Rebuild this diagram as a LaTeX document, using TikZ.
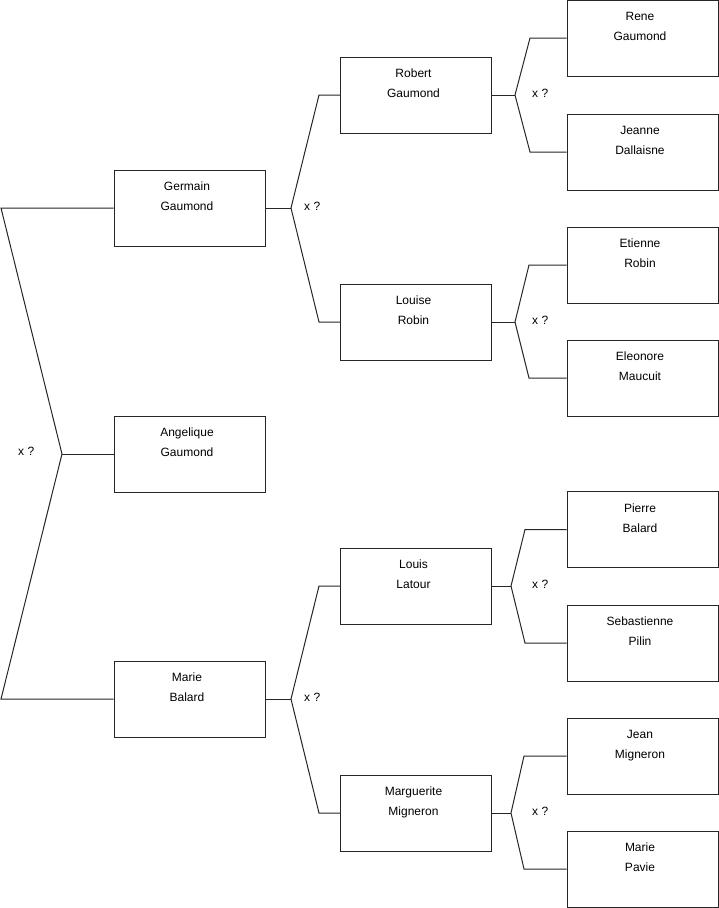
\documentclass[tikz,border=0pt]{standalone}
\usepackage{fontspec}
\setmainfont{Liberation Sans}
\tikzset{
  person/.style={draw=black!85, line width=1pt, fill=white, minimum width=151pt,
    minimum height=76pt, inner sep=0pt},
  personname/.style={anchor=north, yshift=-12.4pt, xshift=-2.5pt, align=center,
    inner sep=0pt, font=\fontsize{12}{20}\selectfont},
  link/.style={draw=black!85, line width=1pt},
  marriage/.style={anchor=west, inner sep=0pt, font=\fontsize{12}{14}\selectfont}
}
\begin{document}
\begin{tikzpicture}[x=1pt,y=-1pt]
\useasboundingbox (0,0) rectangle (719,908);

% first generation
\node[person, label={[personname]north:Germain\\Gaumond}] (germain) at (189.5,208) {};
\node[person, label={[personname]north:Angelique\\Gaumond}] (angelique) at (189.5,454) {};
\node[person, label={[personname]north:Marie\\Balard}] (marieb) at (189.5,699) {};

% second generation
\node[person, label={[personname]north:Robert\\Gaumond}] (robert) at (416,95) {};
\node[person, label={[personname]north:Louise\\Robin}] (louise) at (416,322) {};
\node[person, label={[personname]north:Louis\\Latour}] (louis) at (416,586) {};
\node[person, label={[personname]north:Marguerite\\Migneron}] (marguerite) at (416,813) {};

% third generation
\node[person, label={[personname]north:Rene\\Gaumond}] (rene) at (642.5,38) {};
\node[person, label={[personname]north:Jeanne\\Dallaisne}] (jeanne) at (642.5,152) {};
\node[person, label={[personname]north:Etienne\\Robin}] (etienne) at (642.5,265) {};
\node[person, label={[personname]north:Eleonore\\Maucuit}] (eleonore) at (642.5,378) {};
\node[person, label={[personname]north:Pierre\\Balard}] (pierre) at (642.5,529.5) {};
\node[person, label={[personname]north:Sebastienne\\Pilin}] (sebastienne) at (642.5,643) {};
\node[person, label={[personname]north:Jean\\Migneron}] (jean) at (642.5,756) {};
\node[person, label={[personname]north:Marie\\Pavie}] (mariep) at (642.5,869) {};

% forks
\coordinate (fk0) at (62,454);
\coordinate (fk0a) at (1,208);
\coordinate (fk0b) at (1,699);
\coordinate (fk1) at (291,208);
\coordinate (fk1a) at (319,95);
\coordinate (fk1b) at (319,322);
\coordinate (fk2) at (291,699);
\coordinate (fk2a) at (319,586);
\coordinate (fk2b) at (319,813);
\coordinate (fk3) at (515,95);
\coordinate (fk3a) at (530,38);
\coordinate (fk3b) at (530,152);
\coordinate (fk4) at (515,322);
\coordinate (fk4a) at (529,265);
\coordinate (fk4b) at (529,378);
\coordinate (fk5) at (511,586);
\coordinate (fk5a) at (525,529.5);
\coordinate (fk5b) at (525,643);
\coordinate (fk6) at (511,813);
\coordinate (fk6a) at (524,756);
\coordinate (fk6b) at (524,869);

\draw[link] (germain.west) -- (fk0a) -- (fk0) -- (fk0b) -- (marieb.west);
\draw[link] (fk0) -- (angelique.west);
\draw[link] (germain.east) -- (fk1);
\draw[link] (robert.west) -- (fk1a) -- (fk1) -- (fk1b) -- (louise.west);
\draw[link] (marieb.east) -- (fk2);
\draw[link] (louis.west) -- (fk2a) -- (fk2) -- (fk2b) -- (marguerite.west);
\draw[link] (robert.east) -- (fk3);
\draw[link] (rene.west) -- (fk3a) -- (fk3) -- (fk3b) -- (jeanne.west);
\draw[link] (louise.east) -- (fk4);
\draw[link] (etienne.west) -- (fk4a) -- (fk4) -- (fk4b) -- (eleonore.west);
\draw[link] (louis.east) -- (fk5);
\draw[link] (pierre.west) -- (fk5a) -- (fk5) -- (fk5b) -- (sebastienne.west);
\draw[link] (marguerite.east) -- (fk6);
\draw[link] (jean.west) -- (fk6a) -- (fk6) -- (fk6b) -- (mariep.west);

% marriage marks
\node[marriage] (m0) at (18,451) {x ?};
\node[marriage] (m1) at (304,206.5) {x ?};
\node[marriage] (m2) at (304,697.5) {x ?};
\node[marriage] (m3) at (532,93) {x ?};
\node[marriage] (m4) at (532,320) {x ?};
\node[marriage] (m5) at (532,584) {x ?};
\node[marriage] (m6) at (532,811) {x ?};
\end{tikzpicture}
\end{document}
